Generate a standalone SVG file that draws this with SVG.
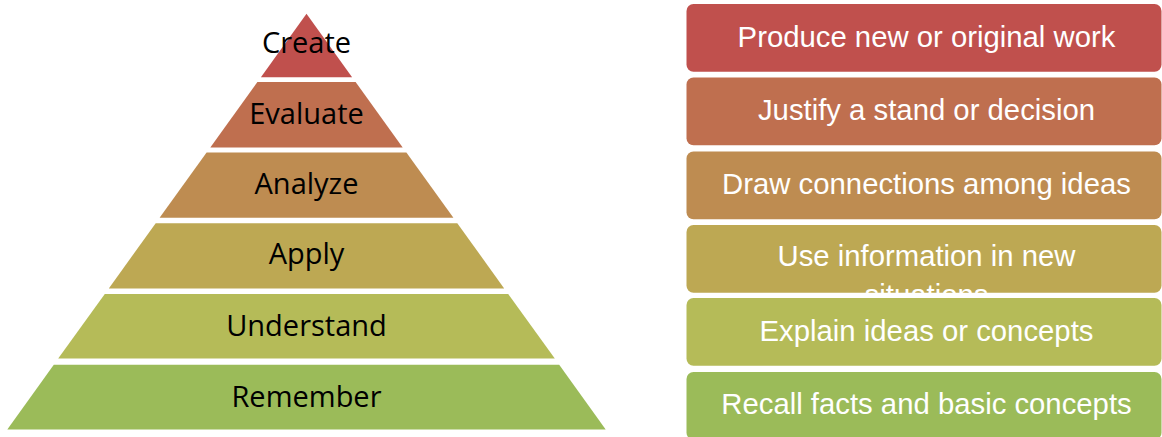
<svg xmlns="http://www.w3.org/2000/svg" width="1162" height="437" viewBox="0 0 1162 437">
  <style>
    .lvl { font-family: "Open Sans", "Liberation Sans", sans-serif; font-size: 29px; fill: #000000; text-anchor: middle; }
    .desc { font-family: "Liberation Sans", Arial, sans-serif; font-size: 29.3px; fill: #FFFFFF; text-anchor: middle; }
    .c1 { fill: #C0504D; }
    .c2 { fill: #BF6F4F; }
    .c3 { fill: #BE8C51; }
    .c4 { fill: #BDA853; }
    .c5 { fill: #B5BB58; }
    .c6 { fill: #9BBB59; }
  </style>
  <rect x="0" y="0" width="1162" height="437" fill="#FFFFFF"/>

  <g id="pyramid">
    <g id="create">
      <polygon class="c1" points="306.5,13.8 352.1,77.2 260.9,77.2"/>
      <text class="lvl" x="306.5" y="53">Create</text>
    </g>
    <g id="evaluate">
      <polygon class="c2" points="257.4,82 355.6,82 402.7,147.4 210.3,147.4"/>
      <text class="lvl" x="306.5" y="124">Evaluate</text>
    </g>
    <g id="analyze">
      <polygon class="c3" points="206.6,152.6 406.4,152.6 453.4,217.8 159.6,217.8"/>
      <text class="lvl" x="306.5" y="194.3">Analyze</text>
    </g>
    <g id="apply">
      <polygon class="c4" points="155.7,223.2 457.3,223.2 504.2,288.4 108.8,288.4"/>
      <text class="lvl" x="306.5" y="264">Apply</text>
    </g>
    <g id="understand">
      <polygon class="c5" points="104.8,294 508.2,294 554.8,358.6 58.2,358.6"/>
      <text class="lvl" x="306.5" y="335.7">Understand</text>
    </g>
    <g id="remember">
      <polygon class="c6" points="53.8,364.8 559.2,364.8 605.7,429.4 7.3,429.4"/>
      <text class="lvl" x="306.5" y="407.3">Remember</text>
    </g>
  </g>

  <g id="connectors"/>

  <g id="descriptions">
    <g id="desc-create">
      <rect class="c1" x="686.5" y="4" width="475" height="67.7" rx="7" ry="7"/>
      <text class="desc" x="926.5" y="46.8">Produce new or original work</text>
    </g>
    <g id="desc-evaluate">
      <rect class="c2" x="686.5" y="77.5" width="475" height="67.7" rx="7" ry="7"/>
      <text class="desc" x="926.5" y="120">Justify a stand or decision</text>
    </g>
    <g id="desc-analyze">
      <rect class="c3" x="686.5" y="151.5" width="475" height="67.7" rx="7" ry="7"/>
      <text class="desc" x="926.5" y="193.5">Draw connections among ideas</text>
    </g>
    <g id="desc-apply">
      <rect class="c4" x="686.5" y="225" width="475" height="67.7" rx="7" ry="7"/>
      <text class="desc" x="926.5" y="266.3">Use information in new</text>
      <text class="desc" x="926.5" y="305">situations</text>
    </g>
    <g id="desc-understand">
      <rect class="c5" x="686.5" y="298" width="475" height="67.7" rx="7" ry="7"/>
      <text class="desc" x="926.5" y="340.5">Explain ideas or concepts</text>
    </g>
    <g id="desc-remember">
      <rect class="c6" x="686.5" y="372" width="475" height="67.7" rx="7" ry="7"/>
      <text class="desc" x="926.5" y="414">Recall facts and basic concepts</text>
    </g>
  </g>
</svg>
